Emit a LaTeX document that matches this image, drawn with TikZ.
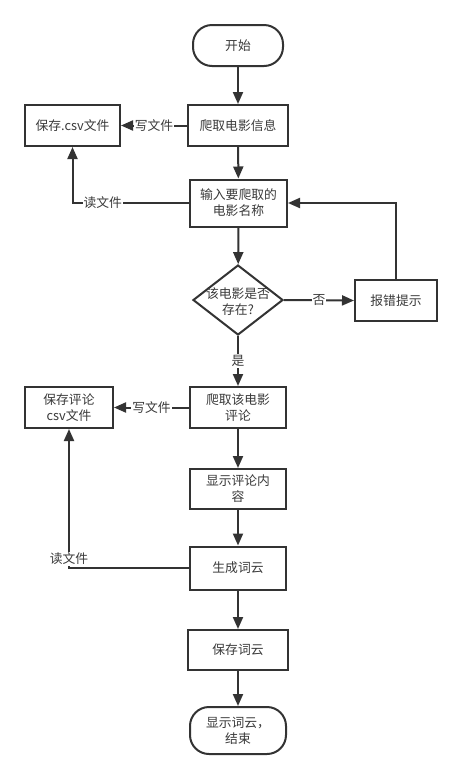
\documentclass[tikz,border=0pt]{standalone}
\usepackage{fontspec}
\setmainfont{Noto Sans CJK SC}
\usetikzlibrary{shapes.geometric,arrows.meta}
\definecolor{ln}{HTML}{333333}
\definecolor{tx}{HTML}{3A3A3A}
\begin{document}
\begin{tikzpicture}[x=1pt,y=-1pt,
  txt/.style={text=tx,font=\fontsize{12.8}{16}\selectfont},
  box/.style={draw=ln,line width=2pt,inner sep=0pt,align=center,txt},
  term/.style={box,rounded corners=19pt},
  arr/.style={draw=ln,line width=2pt,-{Triangle[length=12pt,width=10pt]}},
  lbl/.style={fill=white,inner sep=1pt,txt}]
\useasboundingbox[fill=white] (0,0) rectangle (462,780);
\node[term,minimum width=90pt,minimum height=41pt] (start) at (238,45.5) {开始};
\node[box,minimum width=100pt,minimum height=41pt] (crawl) at (238,125.5) {爬取电影信息};
\node[box,minimum width=95pt,minimum height=41pt] (save1) at (72.5,125.5) {保存.csv文件};
\node[box,minimum width=97pt,minimum height=47pt] (input) at (238.5,203) {输入要爬取的\\电影名称};
\node[diamond,draw=ln,line width=2pt,minimum width=90pt,minimum height=70pt,inner sep=0pt,
  label={[txt,align=center,yshift=-2pt]center:该电影是否\\存在?}] (dec) at (238,300) {};
\node[box,minimum width=82pt,minimum height=41pt] (err) at (396,300.5) {报错提示};
\node[box,minimum width=96pt,minimum height=41pt] (crawl2) at (238,407.5) {爬取该电影\\评论};
\node[box,minimum width=88pt,minimum height=41pt] (save2) at (69,407.5) {保存评论\\csv文件};
\node[box,minimum width=96pt,minimum height=40pt] (show) at (238,489) {显示评论内\\容};
\node[box,minimum width=96pt,minimum height=43pt] (gen) at (238,568) {生成词云};
\node[box,minimum width=100pt,minimum height=40pt] (save3) at (238,650) {保存词云};
\node[term,minimum width=96pt,minimum height=47pt] (end) at (238,730.5) {显示词云，\\结束};

\draw[arr] (start) -- (crawl);
\draw[arr] (crawl) -- node[lbl]{写文件} (save1);
\draw[arr] (crawl) -- (input);
\draw[arr] (input.west) -- node[lbl,pos=0.74]{读文件} (save1.south |- input.west) -- (save1.south);
\draw[arr] (input) -- (dec);
\draw[arr] (dec.east) -- node[lbl]{否} (err.west);
\draw[arr] (err.north) |- (input.east);
\draw[arr] (dec.south) -- node[lbl]{是} (crawl2.north);
\draw[arr] (crawl2) -- node[lbl]{写文件} (save2);
\draw[arr] (crawl2) -- (show);
\draw[arr] (show) -- (gen);
\draw[arr] (gen.west) -- (save2.south |- gen.west) node[lbl,anchor=south,yshift=1pt]{读文件} -- (save2.south);
\draw[arr] (gen) -- (save3);
\draw[arr] (save3) -- (end);
\end{tikzpicture}
\end{document}
